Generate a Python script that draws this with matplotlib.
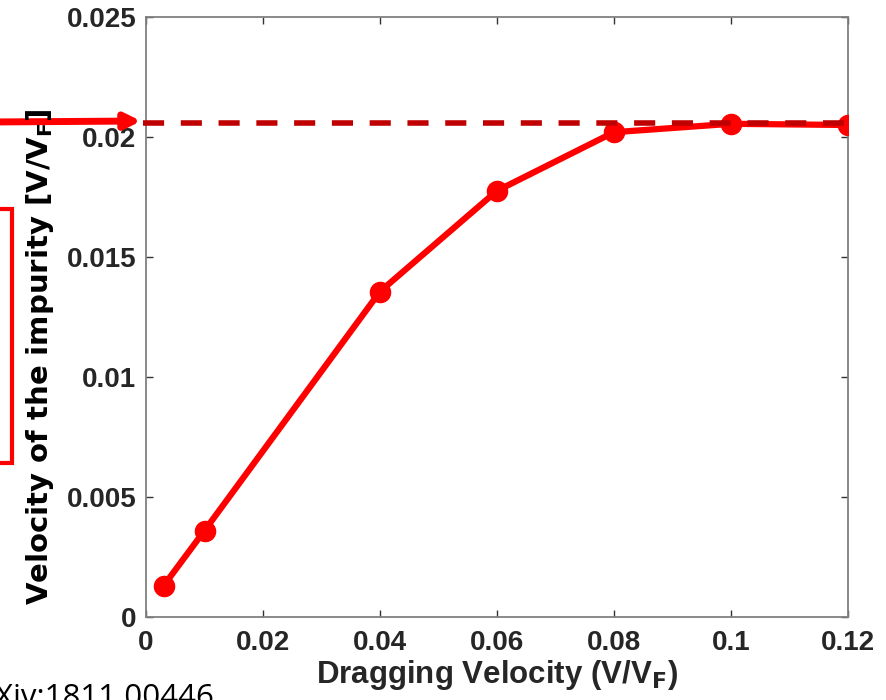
import numpy as np
import matplotlib.pyplot as plt
from matplotlib.patches import Rectangle

# dragging velocity vs impurity velocity (both in units of V_F)
drag_v = [0.003, 0.01, 0.04, 0.06, 0.08, 0.10, 0.12]
imp_v = [0.0013, 0.0036, 0.01356, 0.01776, 0.0202, 0.02055, 0.0205]
saturation = 0.0206

xticks = [0, 0.02, 0.04, 0.06, 0.08, 0.1, 0.12]
xticklabels = ['0', '0.02', '0.04', '0.06', '0.08', '0.1', '0.12']
yticks = [0, 0.005, 0.01, 0.015, 0.02, 0.025]
yticklabels = ['0', '0.005', '0.01', '0.015', '0.02', '0.025']

W, H = 887, 700
fig = plt.figure(figsize=(W / 100, H / 100), dpi=100)
ax = fig.add_axes([146 / W, 1 - 617 / H, (848 - 146) / W, (617 - 17) / H])

ax.plot(drag_v, imp_v, color='#ff0000', lw=4.5, marker='o', ms=14.5, zorder=3)
ax.plot([-0.0005, 0.12], [saturation, saturation], color='#c00000', lw=4,
        ls=(0, (3.8, 3.0)), clip_on=False, zorder=4)

ax.set_xlim(0, 0.12)
ax.set_ylim(0, 0.025)
ax.set_xticks(xticks)
ax.set_xticklabels(xticklabels)
ax.set_yticks(yticks)
ax.set_yticklabels(yticklabels)
ax.tick_params(direction='in', top=True, right=True, length=5, width=1,
               color='#333333', labelsize=20, labelcolor='#262626')
ax.tick_params(axis='x', pad=9)
ax.tick_params(axis='y', pad=7)
for lab in ax.get_xticklabels() + ax.get_yticklabels():
    lab.set_fontweight('bold')
    lab.set_family('Liberation Sans')
for sp in ax.spines.values():
    sp.set_color('#808080')
    sp.set_linewidth(1.3)

ax.set_xlabel('Dragging Velocity (V/V$_\\mathbf{F}$)', fontsize=22.5,
              fontweight='bold', family='Liberation Sans', color='#262626',
              labelpad=2)
fig.text(40 / W, 1 - 357 / H, 'Velocity of the impurity [V/V$_\\mathbf{F}$]',
         rotation=90, ha='center', va='center', fontsize=21,
         fontweight='bold', family='DejaVu Sans', color='black')

# arrow from the left pointing at the saturation line
ax.annotate('', xy=(141 / W, 1 - 121 / H), xycoords='figure fraction',
            xytext=(-0.01, 1 - 122 / H), textcoords='figure fraction',
            arrowprops=dict(arrowstyle='-|>,head_length=0.9,head_width=0.45',
                            color='#ff0000', lw=5, shrinkA=0, shrinkB=0),
            annotation_clip=False)

# partially visible box on the left
fig.patches.append(Rectangle((-20 / W, 1 - 463 / H), 32 / W, (463 - 209) / H,
                             transform=fig.transFigure, fill=False,
                             edgecolor='#ff0000', lw=3))

fig.text(215 / W, 1 - 706 / H, 'arXiv:1811.00446', fontsize=22.5,
         family='Open Sans', color='black', ha='right', va='baseline')

fig.savefig('out.png', dpi=100)
